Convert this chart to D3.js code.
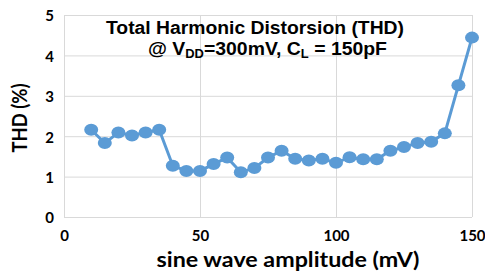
<!DOCTYPE html>
<html>
<head>
<meta charset="utf-8">
<script src="https://cdn.jsdelivr.net/npm/d3@7"></script>
<style>
  body { margin: 0; background: #fff; }
  svg text { fill: #000; }
</style>
</head>
<body>
<script>
// chart size
const width = 485;
const height = 277;
const margin = { top: 15, right: 13, bottom: 60, left: 64 };

// data
const amplitude = [10, 15, 20, 25, 30, 35, 40, 45, 50, 55, 60, 65, 70, 75, 80, 85, 90, 95, 100,
                   105, 110, 115, 120, 125, 130, 135, 140, 145, 150];
const thd = [2.16, 1.83, 2.09, 2.02, 2.09, 2.16, 1.27, 1.14, 1.14, 1.31, 1.47, 1.11, 1.21, 1.47, 1.64,
             1.44, 1.40, 1.44, 1.34, 1.48, 1.43, 1.43, 1.64, 1.73, 1.83, 1.86, 2.07, 3.26, 4.44];
const xTicks = [0, 50, 100, 150];
const yTicks = [0, 1, 2, 3, 4, 5];

var svg = d3.select("body").append("svg")
    .attr("width", width)
    .attr("height", height);

var x_scale = d3.scaleLinear().domain([0, 150]).range([margin.left, width - margin.right]);
var y_scale = d3.scaleLinear().domain([0, 5]).range([height - margin.bottom, margin.top]);

// grid lines
svg.append("g")
    .selectAll("line")
    .data(yTicks)
    .enter()
    .append("line")
    .attr("x1", x_scale(0))
    .attr("x2", x_scale(150))
    .attr("y1", d => y_scale(d) + 0.5)
    .attr("y2", d => y_scale(d) + 0.5)
    .attr("stroke", "#d9d9d9")
    .attr("stroke-width", 1);

svg.append("g")
    .selectAll("line")
    .data(xTicks)
    .enter()
    .append("line")
    .attr("x1", d => x_scale(d) + 0.5)
    .attr("x2", d => x_scale(d) + 0.5)
    .attr("y1", y_scale(0))
    .attr("y2", y_scale(5))
    .attr("stroke", "#d9d9d9")
    .attr("stroke-width", 1);

// axes (labels only, lines are the grid)
var x_axis = d3.axisBottom(x_scale).tickValues(xTicks).tickFormat(d3.format("d")).tickSize(0).tickPadding(13);
svg.append("g")
    .attr("transform", "translate(0," + y_scale(0) + ")")
    .call(x_axis)
    .call(g => g.select(".domain").remove())
    .selectAll("text")
    .attr("font-family", "Lato, sans-serif")
    .attr("font-weight", "bold")
    .attr("font-size", 15)
    .attr("fill", "#000");

var y_axis = d3.axisLeft(y_scale).tickValues(yTicks).tickFormat(d3.format("d")).tickSize(0).tickPadding(10);
svg.append("g")
    .attr("transform", "translate(" + x_scale(0) + ",1)")
    .call(y_axis)
    .call(g => g.select(".domain").remove())
    .selectAll("text")
    .attr("font-family", "Lato, sans-serif")
    .attr("font-weight", "bold")
    .attr("font-size", 15)
    .attr("fill", "#000");

// the series
var line = d3.line()
    .x((d, i) => x_scale(amplitude[i]))
    .y(d => y_scale(d));

svg.append("path")
    .datum(thd)
    .attr("d", line)
    .attr("fill", "none")
    .attr("stroke", "#5b9bd5")
    .attr("stroke-width", 3);

svg.append("g")
    .selectAll("ellipse")
    .data(thd)
    .enter()
    .append("ellipse")
    .attr("cx", (d, i) => x_scale(amplitude[i]))
    .attr("cy", d => y_scale(d))
    .attr("rx", 7)
    .attr("ry", 6)
    .attr("fill", "#5b9bd5");

// titles
svg.append("text")
    .attr("x", 106)
    .attr("y", 34)
    .attr("font-family", "Liberation Sans, Arial, sans-serif")
    .attr("font-weight", "bold")
    .attr("font-size", 18)
    .attr("textLength", 298)
    .attr("lengthAdjust", "spacingAndGlyphs")
    .text("Total Harmonic Distorsion (THD)");

var sub = svg.append("text")
    .attr("x", 148)
    .attr("y", 55)
    .attr("font-family", "Liberation Sans, Arial, sans-serif")
    .attr("font-weight", "bold")
    .attr("font-size", 18)
    .attr("textLength", 239)
    .attr("lengthAdjust", "spacingAndGlyphs");
sub.append("tspan").text("@ V");
sub.append("tspan").attr("font-size", 12).attr("dy", 3).text("DD");
sub.append("tspan").attr("dy", -3).text("=300mV, C");
sub.append("tspan").attr("font-size", 12).attr("dy", 3).text("L");
sub.append("tspan").attr("dy", -3).text(" = 150pF");

svg.append("text")
    .attr("transform", "translate(27," + 118 + ") rotate(-90)")
    .attr("text-anchor", "middle")
    .attr("font-family", "Lato, sans-serif")
    .attr("font-weight", "bold")
    .attr("font-size", 20)
    .attr("textLength", 69)
    .attr("lengthAdjust", "spacingAndGlyphs")
    .text("THD (%)");

svg.append("text")
    .attr("x", 288)
    .attr("y", 267)
    .attr("text-anchor", "middle")
    .attr("font-family", "Lato, sans-serif")
    .attr("font-weight", "bold")
    .attr("font-size", 21)
    .attr("textLength", 263)
    .attr("lengthAdjust", "spacingAndGlyphs")
    .text("sine wave amplitude (mV)");
</script>
</body>
</html>
